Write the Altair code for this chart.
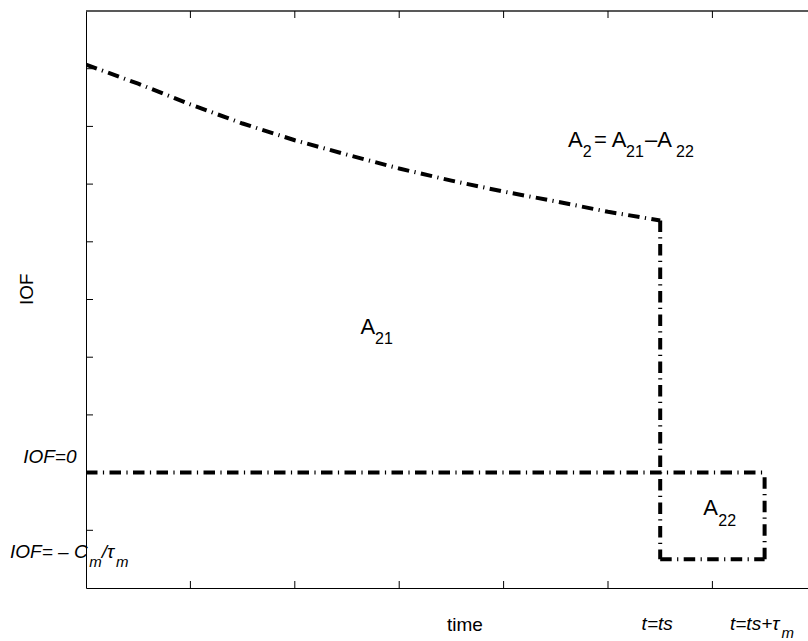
import altair as alt
import pandas as pd

# Decaying IOF curve up to the switching time ts
time_curve = [0.0, 0.5, 1.0, 1.5, 2.0, 2.5, 3.0, 3.5, 4.0, 4.5, 5.0, 5.5]
iof_curve = [9.07, 8.74, 8.38, 8.05, 7.76, 7.51, 7.27, 7.06, 6.87, 6.70, 6.52, 6.37]

t_s = 5.5          # t = ts
t_s_tau = 6.5      # t = ts + tau_m
iof_zero = 2.0     # IOF = 0 level
iof_floor = 0.5    # IOF = -C_m / tau_m level

x_ticks = [1, 2, 3, 4, 5, 6]
y_ticks = [1, 2, 3, 4, 5, 6, 7, 8, 9]

W, H = 722, 577
X_MAX = W / 104.4
Y_MAX = 10

FONT = "Liberation Sans"
DASH = [11.5, 5.4, 1.2, 5.4]

# polyline table: each segment drawn in its own order
rows = [dict(seg="decay", k=i, t=t, iof=v) for i, (t, v) in enumerate(zip(time_curve, iof_curve))]
rows += [
    dict(seg="drop", k=0, t=t_s, iof=iof_curve[-1]),
    dict(seg="drop", k=1, t=t_s, iof=iof_floor),
    dict(seg="floor", k=0, t=t_s, iof=iof_floor),
    dict(seg="floor", k=1, t=t_s_tau, iof=iof_floor),
    dict(seg="rise", k=0, t=t_s_tau, iof=iof_floor),
    dict(seg="rise", k=1, t=t_s_tau, iof=iof_zero),
    dict(seg="zero", k=0, t=0.0, iof=iof_zero),
    dict(seg="zero", k=1, t=t_s_tau, iof=iof_zero),
]
paths = pd.DataFrame(rows)

xs = alt.Scale(domain=[0, X_MAX], nice=False, zero=False)
ys = alt.Scale(domain=[0, Y_MAX], nice=False, zero=False)

lines = alt.Chart(paths).mark_line(
    color="black", strokeWidth=4, strokeDash=DASH, strokeCap="butt", clip=True
).encode(
    x=alt.X("t:Q", scale=xs, axis=alt.Axis(domain=True, ticks=False, labels=False, grid=False, title=None)),
    y=alt.Y("iof:Q", scale=ys, axis=alt.Axis(domain=True, ticks=False, labels=False, grid=False, title=None)),
    detail="seg:N",
    order=alt.Order("k:Q"),
)

top_border = alt.Chart(pd.DataFrame({"a": [0]})).mark_rule(color="#222", strokeWidth=1.5).encode(
    x=alt.datum(0), x2=alt.datum(X_MAX), y=alt.datum(Y_MAX)
)

xt = pd.DataFrame({"t": x_ticks})
yt = pd.DataFrame({"iof": y_ticks})
tick_style = dict(color="black", size=7, thickness=1, opacity=1)
bottom_ticks = alt.Chart(xt).mark_tick(orient="vertical", yOffset=-3.5, **tick_style).encode(
    x="t:Q", y=alt.datum(0)
)
top_ticks = alt.Chart(xt).mark_tick(orient="vertical", yOffset=3.5, **tick_style).encode(
    x="t:Q", y=alt.datum(Y_MAX)
)
left_ticks = alt.Chart(yt).mark_tick(orient="horizontal", xOffset=3.5, **tick_style).encode(
    x=alt.datum(0), y="iof:Q"
)


def label(x, y, pieces, size, italic=True, align="left", angle=None):
    """Text pieces anchored at a data point; each piece is (text, dx, dy, fontsize)."""
    out = []
    for txt, dx, dy, fs in pieces:
        kw = dict(text=txt, align=align, baseline="alphabetic", dx=dx, dy=dy,
                  font=FONT, fontSize=fs, color="black")
        if italic:
            kw["fontStyle"] = "italic"
        if angle is not None:
            kw["angle"] = angle
        out.append(
            alt.Chart(pd.DataFrame({"a": [0]})).mark_text(**kw).encode(x=alt.datum(x), y=alt.datum(y))
        )
    return out


texts = []
# axis annotations
texts += label(0, iof_zero, [("IOF=0", -9.5, -9.3, 19)], 19, align="right")
texts += label(0, iof_floor, [
    ("IOF= \u2013 C", -76, -1, 19),
    ("m", 3.3, 8, 15),
    ("/\u03c4", 15.7, -1, 19),
    ("m", 30, 8, 15),
], 19)
texts += label(3.63, 0, [("time", 0, 43, 19)], 19, italic=False, align="center")
texts += label(t_s, 0, [("t=ts", -3, 42, 19)], 19, align="center")
texts += label(t_s_tau, 0, [
    ("t=ts+\u03c4", -34.6, 42, 19),
    ("m", 17, 50, 15),
], 19)
texts += label(-0.505, 5.18, [("IOF", 0, 0, 19)], 19, italic=False, align="center", angle=270)

# area annotations
texts += label(2.63, 4.41, [("A", 0, 0, 22), ("21", 14.5, 10, 16)], 22, italic=False)
texts += label(4.617, 7.643, [
    ("A", 0, 0, 22),
    ("2", 14.7, 10, 16),
    ("= A", 26, 0, 22),
    ("21", 58, 10, 16),
    ("\u2013A", 77, 0, 22),
    ("22", 108, 10, 16),
], 22, italic=False)
texts += label(5.913, 1.26, [("A", 0, 0, 22), ("22", 15, 11, 16)], 22, italic=False)

chart = alt.layer(lines, top_border, bottom_ticks, top_ticks, left_ticks, *texts).properties(
    width=W, height=H,
    autosize=alt.AutoSizeParams(type="none"),
    padding={"left": 86, "top": 11, "right": 0, "bottom": 53},
    background="white",
).configure_view(stroke=None).configure_axis(
    domainColor="black", domainWidth=1, titleOpacity=0
)

chart.save("out.html", embed_options={"renderer": "svg", "actions": False})
